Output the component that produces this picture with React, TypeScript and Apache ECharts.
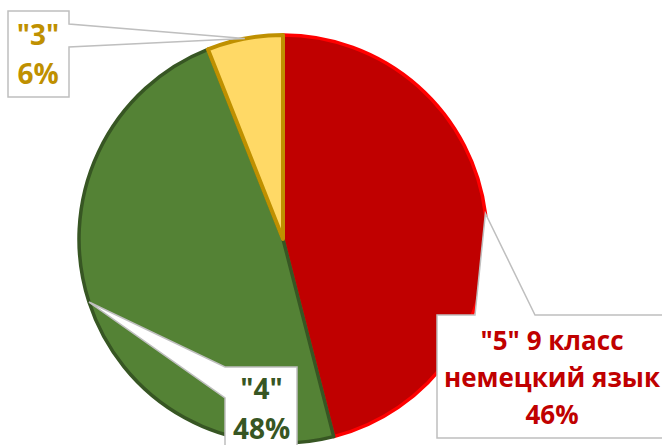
import React, { useEffect, useRef } from "react";
import * as echarts from "echarts";

// ---- data ----
const categories = ['"5" 9 класс\nнемецкий язык', '"4"', '"3"'];
const values = [46, 48, 6];
const fillColors = ["#C00000", "#548235", "#FFD966"];
const borderColors = ["#FF0000", "#375623", "#BF9000"];
const labelColors = ["#C00000", "#375623", "#BF9000"];

// ---- layout (positions / sizes only) ----
const CENTER: [number, number] = [283, 239];
const RADIUS = 204;
const START_ANGLE = 90;
type Callout = {
  box: { x: number; y: number; w: number; h: number };
  side: "top" | "left" | "right";
  a: number;
  b: number;
  firstY: number;
  spacing: number;
  fontSize: number;
  cx: number;
};
const callouts: Callout[] = [
  { box: { x: 437, y: 315, w: 232, h: 123 }, side: "top", a: 475, b: 535, firstY: 340, spacing: 37, fontSize: 26, cx: 552 },
  { box: { x: 225, y: 367, w: 72, h: 100 }, side: "left", a: 367, b: 398, firstY: 387.5, spacing: 40, fontSize: 28, cx: 261.5 },
  { box: { x: 8, y: 11, w: 61, h: 86 }, side: "right", a: 24, b: 47, firstY: 34, spacing: 38.5, fontSize: 28, cx: 38 },
];
const FONT_FAMILY = '"Open Sans", "Noto Sans", sans-serif';

function calloutPoints(c: Callout, tip: number[]) {
  const { x, y, w, h } = c.box;
  if (c.side === "top")
    return [[x, y], [c.a, y], tip, [c.b, y], [x + w, y], [x + w, y + h], [x, y + h]];
  if (c.side === "right")
    return [[x, y], [x + w, y], [x + w, c.a], tip, [x + w, c.b], [x + w, y + h], [x, y + h]];
  return [[x, y], [x + w, y], [x + w, y + h], [x, y + h], [x, c.b], tip, [x, c.a]];
}

export default function App() {
  const ref = useRef<HTMLDivElement>(null);
  useEffect(() => {
    document.body.style.margin = "0";
    if (!ref.current) return;
    const chart = echarts.init(ref.current, undefined, { renderer: "svg" });
    const total = values.reduce((s, v) => s + v, 0);
    let cum = 0;
    const graphics: any[] = [];
    values.forEach((v, i) => {
      const midFrac = (cum + v / 2) / total;
      cum += v;
      const ang = ((START_ANGLE - midFrac * 360) * Math.PI) / 180;
      const tip = [CENTER[0] + RADIUS * Math.cos(ang), CENTER[1] - RADIUS * Math.sin(ang)];
      const c = callouts[i];
      graphics.push({
        type: "polygon",
        z: 100,
        silent: true,
        shape: { points: calloutPoints(c, tip) },
        style: { fill: "#FFFFFF", stroke: "#BFBFBF", lineWidth: 1.5 },
      });
      const lines = [...categories[i].split("\n"), `${Math.round((v / total) * 100)}%`];
      lines.forEach((t, k) => {
        graphics.push({
          type: "text",
          z: 101,
          silent: true,
          x: c.cx,
          y: c.firstY + k * c.spacing,
          style: {
            text: t,
            font: `bold ${c.fontSize}px ${FONT_FAMILY}`,
            fill: labelColors[i],
            align: "center",
            verticalAlign: "middle",
          },
        });
      });
    });

    chart.setOption({
      animation: false,
      backgroundColor: "#FFFFFF",
      graphic: graphics,
      series: [
        {
          type: "pie",
          center: CENTER,
          radius: RADIUS,
          startAngle: START_ANGLE,
          clockwise: true,
          silent: true,
          label: { show: false },
          labelLine: { show: false },
          emphasis: { disabled: true },
          data: values.map((v, i) => ({
            name: categories[i],
            value: v,
            itemStyle: {
              color: fillColors[i],
              borderColor: borderColors[i],
              borderWidth: i === 2 ? 4 : 3.5,
            },
          })),
        },
      ],
    });
    return () => chart.dispose();
  }, []);
  return (
    <div
      ref={ref}
      style={{ position: "absolute", left: 0, top: 0, width: 662, height: 445 }}
    />
  );
}
